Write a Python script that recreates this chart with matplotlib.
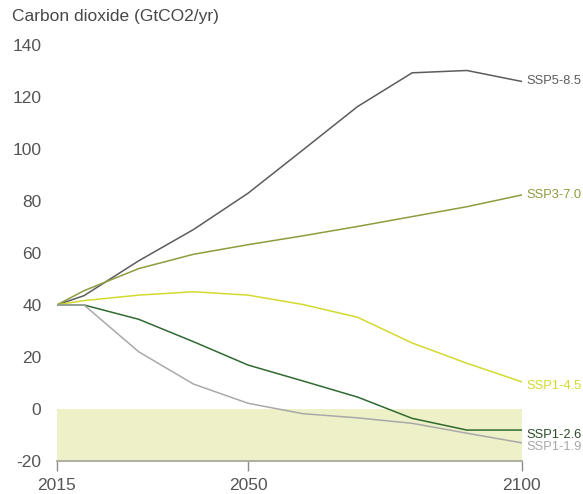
import matplotlib
matplotlib.use("Agg")
import matplotlib.pyplot as plt

plt.rcParams['font.family'] = ['Liberation Sans', 'DejaVu Sans']

years = [2015, 2020, 2030, 2040, 2050, 2060, 2070, 2080, 2090, 2100]

ssp585 = [40, 43.6, 57.0, 69.0, 83.0, 99.6, 116.3, 129.3, 130.2, 126.0]
ssp370 = [40, 45.5, 54.0, 59.5, 63.2, 66.6, 70.2, 74.0, 77.8, 82.3]
ssp145 = [40, 41.7, 43.8, 45.1, 43.8, 40.2, 35.3, 25.4, 17.6, 10.5]
ssp126 = [40, 40, 34.5, 25.9, 16.9, 10.8, 4.6, -3.6, -8.1, -8.1]
ssp119 = [40, 40, 22.0, 9.6, 2.2, -1.8, -3.4, -5.5, -9.3, -13.0]

names = ["SSP5-8.5", "SSP3-7.0", "SSP1-4.5", "SSP1-2.6", "SSP1-1.9"]
series = [ssp585, ssp370, ssp145, ssp126, ssp119]
colors = ["#5c5c5c", "#8e9c3e", "#d3da2e", "#2f6a30", "#a9a9a9"]
text_colors = ["#5c5c5c", "#8e9c3e", "#d3da2e", "#2a4d2a", "#a9a9a9"]
label_shift = [0, 0, -1.5, -1.8, -1.8]

yticks = [-20, 0, 20, 40, 60, 80, 100, 120, 140]
xticks = [2015, 2050, 2100]

W, H = 583, 494
fig = plt.figure(figsize=(W / 100, H / 100), dpi=100)
ax = fig.add_axes([56.7 / W, (H - 461) / H, (521.5 - 56.7) / W, (461 - 45) / H])

# negative emissions band
ax.fill_between([2015, 2100], -20, 0, color="#eef0c8", lw=0, zorder=0)

for name, vals, c, tc, dy in zip(names, series, colors, text_colors, label_shift):
    ax.plot(years, vals, color=c, lw=1.1, zorder=2)
    ax.text(2100.9, vals[-1] + dy, name, color=tc, fontsize=9.3, va="center", ha="left",
            clip_on=False)

ax.set_xlim(2015, 2100)
ax.set_ylim(-20, 140)
ax.set_xticks(xticks)
ax.set_yticks(yticks)
ax.set_yticklabels([str(v) for v in yticks])

for s in ["top", "right", "left"]:
    ax.spines[s].set_visible(False)
ax.spines["bottom"].set_color("#aaa89c")
ax.spines["bottom"].set_linewidth(1.3)

ax.tick_params(axis="y", length=0, pad=11, labelsize=12.5, labelcolor="#555555")
ax.tick_params(axis="x", length=7, width=1, color="#8a8a8a", pad=5,
               labelsize=12.5, labelcolor="#555555")

fig.text(12 / W, 1 - 17 / H, "Carbon dioxide (GtCO2/yr)", fontsize=12.5,
         color="#484848", ha="left", va="center")

fig.savefig("out.png", dpi=100)
